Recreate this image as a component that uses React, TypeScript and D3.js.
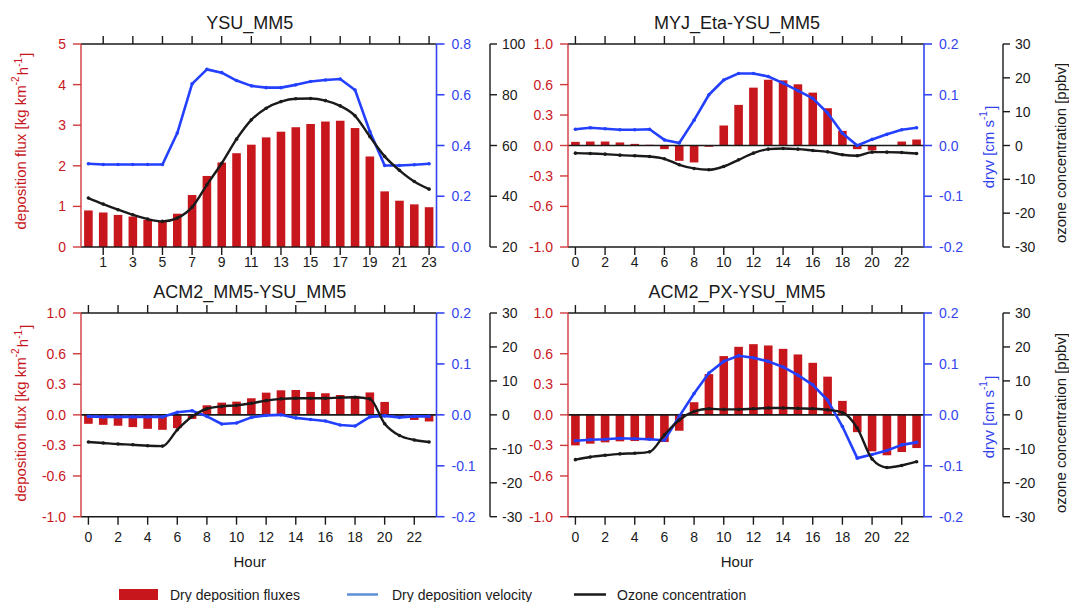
import * as d3 from "d3"

// hours of the day
const hours = [0, 1, 2, 3, 4, 5, 6, 7, 8, 9, 10, 11, 12, 13, 14, 15, 16, 17, 18, 19, 20, 21, 22, 23]

// YSU_MM5
const ysuFlux = [0.9, 0.85, 0.79, 0.75, 0.67, 0.63, 0.82, 1.28, 1.75, 2.08, 2.31, 2.52, 2.7, 2.84, 2.95, 3.03, 3.09, 3.11, 2.93, 2.23, 1.37, 1.14, 1.05, 0.98]
const ysuDryv = [0.328, 0.325, 0.325, 0.325, 0.325, 0.325, 0.449, 0.643, 0.7, 0.687, 0.656, 0.635, 0.628, 0.628, 0.639, 0.652, 0.658, 0.662, 0.619, 0.455, 0.321, 0.321, 0.324, 0.328]
const ysuOzone = [39.3, 36.9, 34.7, 32.7, 31.0, 30.1, 31.4, 35.7, 44.5, 53.0, 62.5, 70.1, 74.7, 77.3, 78.4, 78.5, 77.7, 75.6, 71.7, 63.5, 55.7, 50.2, 45.8, 42.8]

// MYJ_Eta - YSU_MM5
const myjFlux = [0.036, 0.039, 0.039, 0.03, 0.016, 0.007, -0.036, -0.151, -0.167, -0.013, 0.197, 0.4, 0.57, 0.648, 0.642, 0.603, 0.521, 0.367, 0.144, -0.036, -0.049, -0.003, 0.039, 0.059]
const myjDryv = [0.032, 0.035, 0.033, 0.031, 0.031, 0.032, 0.011, 0.005, 0.05, 0.1, 0.129, 0.142, 0.142, 0.136, 0.123, 0.108, 0.093, 0.064, 0.024, 0.0, 0.012, 0.022, 0.031, 0.035]
const myjOzone = [-2.26, -2.36, -2.56, -2.85, -3.05, -3.24, -3.93, -5.7, -6.78, -7.18, -6.19, -4.23, -2.26, -1.08, -0.88, -1.08, -1.47, -1.87, -2.75, -3.05, -1.97, -1.97, -2.06, -2.36]

// ACM2_MM5 - YSU_MM5
const acmFlux = [-0.088, -0.098, -0.107, -0.12, -0.137, -0.147, -0.13, -0.04, 0.094, 0.12, 0.13, 0.163, 0.218, 0.241, 0.244, 0.225, 0.212, 0.195, 0.186, 0.22, 0.127, -0.01, -0.05, -0.065]
const acmDryv = [-0.003, -0.004, -0.004, -0.004, -0.004, -0.004, 0.005, 0.008, -0.003, -0.018, -0.016, -0.005, -0.001, 0.0, -0.006, -0.009, -0.012, -0.02, -0.022, -0.004, -0.002, -0.005, -0.003, -0.003]
const acmOzone = [-8.0, -8.3, -8.6, -8.8, -9.1, -9.2, -4.4, -0.5, 1.8, 2.5, 2.8, 3.4, 4.2, 4.7, 4.9, 4.9, 4.9, 5.1, 5.2, 4.7, -2.6, -6.1, -7.4, -8.0]

// ACM2_PX - YSU_MM5
const pxFlux = [-0.3, -0.283, -0.27, -0.26, -0.257, -0.25, -0.267, -0.156, 0.124, 0.4, 0.577, 0.668, 0.694, 0.681, 0.648, 0.593, 0.511, 0.375, 0.137, -0.17, -0.358, -0.397, -0.365, -0.326]
const pxDryv = [-0.051, -0.049, -0.048, -0.046, -0.047, -0.048, -0.05, -0.003, 0.042, 0.082, 0.105, 0.116, 0.112, 0.105, 0.094, 0.078, 0.059, 0.029, -0.023, -0.085, -0.078, -0.07, -0.059, -0.054]
const pxOzone = [-13.2, -12.4, -11.9, -11.5, -11.3, -10.9, -5.9, -1.5, 1.0, 1.8, 1.6, 1.6, 1.8, 2.0, 2.0, 1.9, 1.8, 1.5, 0.7, -3.9, -13.0, -15.5, -14.9, -13.8]

// tick values
const oddHours = [1, 3, 5, 7, 9, 11, 13, 15, 17, 19, 21, 23]
const evenHours = [0, 2, 4, 6, 8, 10, 12, 14, 16, 18, 20, 22]
const fluxTicksAbs = [0, 1, 2, 3, 4, 5]
const fluxTicksDiff = [-1.0, -0.6, -0.3, 0.0, 0.3, 0.6, 1.0]
const dryvTicksAbs = [0, 0.2, 0.4, 0.6, 0.8]
const dryvTicksDiff = [-0.2, -0.1, 0, 0.1, 0.2]
const ozoneTicksAbs = [20, 40, 60, 80, 100]
const ozoneTicksDiff = [-30, -20, -10, 0, 10, 20, 30]

const RED = "#c8161d"
const RED_AXIS = "#d03a3e"
const BLUE = "#2340ff"
const BLUE_AXIS = "#3344ee"
const BLACK = "#1a1a1a"
const FONT = "'Liberation Sans', Arial, sans-serif"

const COLS = [
  { x0: 81, x1: 436.5 },
  { x0: 568, x1: 924 },
]
const ROWS = [
  { y0: 44, y1: 247, tickBase: 267 },
  { y0: 313, y1: 516.7, tickBase: 542 },
]

interface PanelProps {
  col: number
  row: number
  title: string
  flux: number[]
  dryv: number[]
  ozone: number[]
  fluxDomain: [number, number]
  fluxTicks: number[]
  dryvDomain: [number, number]
  dryvTicks: number[]
  ozoneDomain: [number, number]
  xTicks: number[]
  zeroLine: boolean
  hourLabel: boolean
}

const fmt1 = (v: number) => v.toFixed(1)

function Panel(p: PanelProps) {
  const { x0, x1 } = COLS[p.col]
  const { y0, y1, tickBase } = ROWS[p.row]
  const x = d3.scaleLinear().domain([-0.5, 23.5]).range([x0, x1])
  const yF = d3.scaleLinear().domain(p.fluxDomain).range([y1, y0])
  const yD = d3.scaleLinear().domain(p.dryvDomain).range([y1, y0])
  const yO = d3.scaleLinear().domain(p.ozoneDomain).range([y1, y0])
  const bw = (x(1) - x(0)) * 0.58

  const dryvLine = d3.line<number>().x((_, i) => x(hours[i])).y(d => yD(d))
  const ozoneLine = d3
    .line<number>()
    .x((_, i) => x(hours[i]))
    .y(d => yO(d))
    .curve(d3.curveMonotoneX)

  const cx = (x0 + x1) / 2 - 9

  return (
    <g>
      <text x={cx} y={y0 - 15} textAnchor="middle" fontSize={18} fill={BLACK}>
        {p.title}
      </text>

      {/* bars */}
      {p.flux.map((v, i) => (
        <rect
          key={i}
          x={x(hours[i]) - bw / 2}
          y={Math.min(yF(v), yF(0))}
          width={bw}
          height={Math.abs(yF(v) - yF(0))}
          fill={RED}
        />
      ))}

      {p.zeroLine && <line x1={x0} x2={x1} y1={yF(0)} y2={yF(0)} stroke={BLACK} strokeWidth={1.6} />}

      {/* top and bottom frame with hour ticks */}
      <line x1={x0} x2={x1} y1={y0} y2={y0} stroke={BLACK} strokeWidth={1.4} />
      <line x1={x0} x2={x1} y1={y1} y2={y1} stroke={BLACK} strokeWidth={1.4} />
      {p.xTicks.map(t => (
        <g key={t}>
          <line x1={x(t)} x2={x(t)} y1={y0} y2={y0 - 8} stroke={BLACK} strokeWidth={1.4} />
          <line x1={x(t)} x2={x(t)} y1={y1} y2={y1 + 8} stroke={BLACK} strokeWidth={1.4} />
          <text x={x(t)} y={tickBase} textAnchor="middle" fontSize={14} fill={BLACK}>
            {t}
          </text>
        </g>
      ))}

      {/* red flux axis */}
      <line x1={x0} x2={x0} y1={y0} y2={y1} stroke={RED_AXIS} strokeWidth={1.4} />
      {p.fluxTicks.map(t => (
        <g key={t}>
          <line x1={x0} x2={x0 - 8} y1={yF(t)} y2={yF(t)} stroke={RED_AXIS} strokeWidth={1.4} />
          <text x={x0 - 15} y={yF(t)} dy="0.36em" textAnchor="end" fontSize={14} fill={RED}>
            {p.fluxDomain[1] > 2 ? t : fmt1(t)}
          </text>
        </g>
      ))}

      {/* blue dryv axis */}
      <line x1={x1} x2={x1} y1={y0} y2={y1} stroke={BLUE_AXIS} strokeWidth={1.6} />
      {p.dryvTicks.map(t => (
        <g key={t}>
          <line x1={x1} x2={x1 + 8} y1={yD(t)} y2={yD(t)} stroke={BLUE_AXIS} strokeWidth={1.6} />
          <text x={x1 + 15} y={yD(t)} dy="0.36em" fontSize={14} fill={BLUE_AXIS}>
            {fmt1(t)}
          </text>
        </g>
      ))}

      {/* lines */}
      <path d={dryvLine(p.dryv) ?? ""} fill="none" stroke={BLUE} strokeWidth={2.6} strokeLinejoin="round" />
      {p.dryv.map((v, i) => (
        <circle key={i} cx={x(hours[i])} cy={yD(v)} r={1.8} fill={BLUE} />
      ))}
      <path d={ozoneLine(p.ozone) ?? ""} fill="none" stroke={BLACK} strokeWidth={2.4} strokeLinejoin="round" />
      {p.ozone.map((v, i) => (
        <circle key={i} cx={x(hours[i])} cy={yO(v)} r={1.8} fill={BLACK} />
      ))}

      {p.hourLabel && (
        <text x={cx} y={tickBase + 25} textAnchor="middle" fontSize={15} fill={BLACK}>
          Hour
        </text>
      )}
    </g>
  )
}

function OzoneAxis({ ax, row, ticks, domain }: { ax: number; row: number; ticks: number[]; domain: [number, number] }) {
  const { y0, y1 } = ROWS[row]
  const y = d3.scaleLinear().domain(domain).range([y1, y0])
  return (
    <g>
      <line x1={ax} x2={ax} y1={y0} y2={y1} stroke={BLACK} strokeWidth={1.4} />
      {ticks.map(t => (
        <g key={t}>
          <line x1={ax} x2={ax + 7} y1={y(t)} y2={y(t)} stroke={BLACK} strokeWidth={1.4} />
          <text x={ax + 12} y={y(t)} dy="0.36em" fontSize={14} fill={BLACK}>
            {t}
          </text>
        </g>
      ))}
    </g>
  )
}

function VLabel({ x, y, color, children }: { x: number; y: number; color: string; children: any }) {
  return (
    <text
      transform={`translate(${x},${y}) rotate(-90)`}
      textAnchor="middle"
      dominantBaseline="central"
      fontSize={15}
      fill={color}
    >
      {children}
    </text>
  )
}

const sup = (s: string) => (
  <>
    <tspan fontSize={10} dy="-0.5em">{s}</tspan>
    <tspan dy="0.5em">{"\u200a"}</tspan>
  </>
)

export default function App() {
  return (
    <svg
      width={1069}
      height={602}
      style={{ position: "absolute", left: 0, top: 0, background: "#fff" }}
      fontFamily={FONT}
    >
      <rect width={1069} height={602} fill="#fff" />
      <Panel
        col={0}
        row={0}
        title="YSU_MM5"
        flux={ysuFlux}
        dryv={ysuDryv}
        ozone={ysuOzone}
        fluxDomain={[0, 5]}
        fluxTicks={fluxTicksAbs}
        dryvDomain={[0, 0.8]}
        dryvTicks={dryvTicksAbs}
        ozoneDomain={[20, 100]}
        xTicks={oddHours}
        zeroLine={false}
        hourLabel={false}
      />
      <Panel
        col={1}
        row={0}
        title="MYJ_Eta-YSU_MM5"
        flux={myjFlux}
        dryv={myjDryv}
        ozone={myjOzone}
        fluxDomain={[-1, 1]}
        fluxTicks={fluxTicksDiff}
        dryvDomain={[-0.2, 0.2]}
        dryvTicks={dryvTicksDiff}
        ozoneDomain={[-30, 30]}
        xTicks={evenHours}
        zeroLine={true}
        hourLabel={false}
      />
      <Panel
        col={0}
        row={1}
        title="ACM2_MM5-YSU_MM5"
        flux={acmFlux}
        dryv={acmDryv}
        ozone={acmOzone}
        fluxDomain={[-1, 1]}
        fluxTicks={fluxTicksDiff}
        dryvDomain={[-0.2, 0.2]}
        dryvTicks={dryvTicksDiff}
        ozoneDomain={[-30, 30]}
        xTicks={evenHours}
        zeroLine={true}
        hourLabel={true}
      />
      <Panel
        col={1}
        row={1}
        title="ACM2_PX-YSU_MM5"
        flux={pxFlux}
        dryv={pxDryv}
        ozone={pxOzone}
        fluxDomain={[-1, 1]}
        fluxTicks={fluxTicksDiff}
        dryvDomain={[-0.2, 0.2]}
        dryvTicks={dryvTicksDiff}
        ozoneDomain={[-30, 30]}
        xTicks={evenHours}
        zeroLine={true}
        hourLabel={true}
      />

      {/* ozone axes for left-column panels sit between the columns */}
      <OzoneAxis ax={490} row={0} ticks={ozoneTicksAbs} domain={[20, 100]} />
      <OzoneAxis ax={490} row={1} ticks={ozoneTicksDiff} domain={[-30, 30]} />
      <OzoneAxis ax={1003} row={0} ticks={ozoneTicksDiff} domain={[-30, 30]} />
      <OzoneAxis ax={1003} row={1} ticks={ozoneTicksDiff} domain={[-30, 30]} />

      {/* axis titles */}
      <VLabel x={20} y={141} color={RED}>
        deposition flux [kg km{sup("-2")}h{sup("-1")}]
      </VLabel>
      <VLabel x={20} y={413} color={RED}>
        deposition flux [kg km{sup("-2")}h{sup("-1")}]
      </VLabel>
      <VLabel x={988} y={147} color={BLUE_AXIS}>
        dryv [cm s{sup("-1")}]
      </VLabel>
      <VLabel x={988} y={417} color={BLUE_AXIS}>
        dryv [cm s{sup("-1")}]
      </VLabel>
      <VLabel x={1060} y={153} color={BLACK}>
        ozone concentration [ppbv]
      </VLabel>
      <VLabel x={1060} y={423} color={BLACK}>
        ozone concentration [ppbv]
      </VLabel>

      {/* legend */}
      <g fontSize={14} fill={BLACK}>
        <rect x={119} y={589} width={39} height={11} fill={RED} />
        <text x={170} y={600}>Dry deposition fluxes</text>
        <line x1={347} x2={378} y1={594.5} y2={594.5} stroke="#5b8ed6" strokeWidth={2.5} />
        <text x={392} y={600}>Dry deposition velocity</text>
        <line x1={574} x2={606} y1={594.5} y2={594.5} stroke={BLACK} strokeWidth={2.5} />
        <text x={617} y={600}>Ozone concentration</text>
      </g>
    </svg>
  )
}
